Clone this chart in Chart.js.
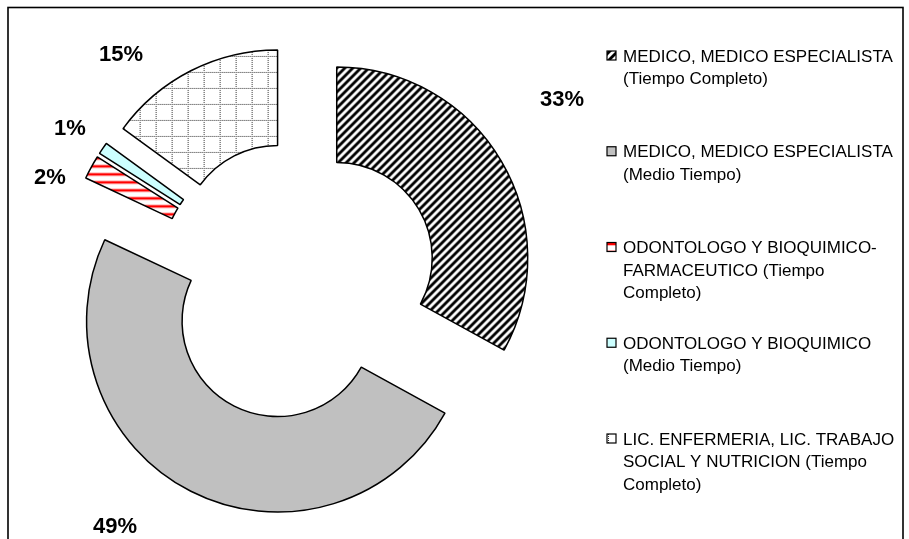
<!DOCTYPE html>
<html>
<head>
<meta charset="utf-8">
<script src="https://cdn.jsdelivr.net/npm/chart.js@4/dist/chart.umd.min.js"></script>
<style>
  body { margin: 0; background: #fff; }
  #wrap { width: 909px; height: 539px; }
</style>
</head>
<body>
<div id="wrap"><canvas id="staff-chart" width="909" height="539"></canvas></div>
<script>
const categories = [
    ['MEDICO, MEDICO ESPECIALISTA', '(Tiempo Completo)'],
    ['MEDICO, MEDICO ESPECIALISTA', '(Medio Tiempo)'],
    ['ODONTOLOGO Y BIOQUIMICO-', 'FARMACEUTICO (Tiempo', 'Completo)'],
    ['ODONTOLOGO Y BIOQUIMICO', '(Medio Tiempo)'],
    ['LIC. ENFERMERIA, LIC. TRABAJO', 'SOCIAL Y NUTRICION (Tiempo', 'Completo)']
];
const shares = [33, 49, 2, 1, 15];

// where each percentage label sits, measured from the ring centre
const labelOffsets = [[264, -181], [-183, 246], [-248, -103], [-228, -152], [-177, -226]];
const explode = 45;      // how far every slice is pulled out, px
const legendX = 607;
const legendTop = 57;
const legendStep = 95.75;
const lineHeight = 22.5;

const canvas = document.getElementById('staff-chart');
const ctx = canvas.getContext('2d');

function makePattern(size, paint) {
    const tile = document.createElement('canvas');
    tile.width = tile.height = size;
    const g = tile.getContext('2d');
    g.fillStyle = '#fff';
    g.fillRect(0, 0, size, size);
    paint(g, size);
    return ctx.createPattern(tile, 'repeat');
}

// soft "/" stripes, period 8px along x
const blackStripes = makePattern(8, (g, s) => {
    const img = g.getImageData(0, 0, s, s);
    for (let y = 0; y < s; y++) {
        for (let x = 0; x < s; x++) {
            const w = Math.cos(2 * Math.PI * (x + y) / s);
            const v = Math.max(0, Math.min(255, 128 + 200 * w));
            const p = (y * s + x) * 4;
            img.data[p] = img.data[p + 1] = img.data[p + 2] = v;
            img.data[p + 3] = 255;
        }
    }
    g.putImageData(img, 0, 0);
});

const redStripes = makePattern(8, (g, s) => {
    g.fillStyle = '#ffb4b4';
    g.fillRect(0, 2, s, 1);
    g.fillRect(0, 5, s, 1);
    g.fillStyle = '#ff0000';
    g.fillRect(0, 3, s, 2);
});

const dottedGrid = makePattern(16, (g, s) => {
    g.fillStyle = '#333';
    for (let i = 0; i < s; i += 2) {
        g.fillRect(i, 0, 1, 1);
        g.fillRect(0, i, 1, 1);
    }
});

const fills = [blackStripes, '#c0c0c0', redStripes, '#ccffff', dottedGrid];

// draw each arc shifted outwards along its own bisector
const explodedRing = {
    id: 'explodedRing',
    beforeDatasetsDraw(chart) {
        const c = chart.ctx;
        chart.getDatasetMeta(0).data.forEach(arc => {
            const mid = (arc.startAngle + arc.endAngle) / 2;
            c.save();
            c.translate(Math.cos(mid) * explode, Math.sin(mid) * explode);
            arc.draw(c);
            c.restore();
        });
        return false;
    },
    afterDraw(chart) {
        const c = chart.ctx;
        const arcs = chart.getDatasetMeta(0).data;
        c.save();

        // percentage labels
        c.fillStyle = '#000';
        c.font = 'bold 22px "Liberation Sans", Arial, sans-serif';
        c.textAlign = 'center';
        c.textBaseline = 'middle';
        shares.forEach((v, i) => {
            c.fillText(v + '%', arcs[i].x + labelOffsets[i][0], arcs[i].y + labelOffsets[i][1]);
        });

        // legend
        c.font = '17px "Liberation Sans", Arial, sans-serif';
        c.textAlign = 'left';
        chart.data.labels.forEach((lines, i) => {
            const y = legendTop + i * legendStep;
            c.fillStyle = fills[i];
            c.fillRect(legendX, y - 6, 9, 9);
            c.strokeStyle = '#000';
            c.lineWidth = 1.2;
            c.strokeRect(legendX, y - 6, 9, 9);
            c.fillStyle = '#000';
            lines.forEach((t, j) => c.fillText(t, legendX + 16, y + j * lineHeight));
        });

        // outer frame
        c.strokeStyle = '#000';
        c.lineWidth = 1.6;
        c.strokeRect(8, 7.5, 895, 600);
        c.restore();
    }
};

new Chart(ctx, {
    type: 'doughnut',
    data: {
        labels: categories,
        datasets: [{
            data: shares,
            backgroundColor: fills,
            borderColor: '#000',
            borderWidth: 1.5,
            radius: 191,
            offset: 0
        }]
    },
    options: {
        responsive: false,
        animation: false,
        cutout: '50%',
        layout: { padding: { left: 0, right: 313, top: 23, bottom: 0 } },
        plugins: {
            legend: { display: false },
            tooltip: { enabled: false }
        }
    },
    plugins: [explodedRing]
});
</script>
</body>
</html>
